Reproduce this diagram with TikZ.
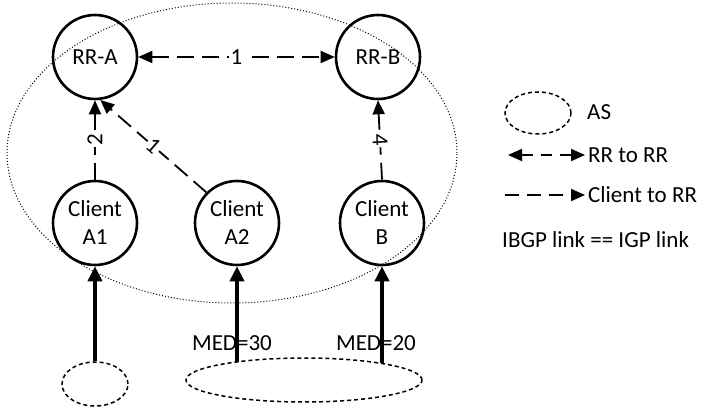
\documentclass[tikz,border=0pt]{standalone}
\usepackage{fontspec}
\setmainfont{Carlito}
\usetikzlibrary{arrows.meta,shapes.geometric}
\begin{document}
\begin{tikzpicture}[x=1pt,y=-1pt,
  font=\fontsize{23}{28}\selectfont,
  router/.style={circle,draw,line width=2.6pt,minimum size=84pt,inner sep=0pt,align=center},
  asdash/.style={draw,line width=1.5pt,dash pattern=on 4pt off 3pt},
  ibgp/.style={line width=1.8pt,dash pattern=on 17pt off 8pt,-{Triangle[length=14pt,width=12pt]}},
  rrlink/.style={line width=1.8pt,dash pattern=on 17pt off 8pt,{Triangle[length=14pt,width=12pt]}-{Triangle[length=14pt,width=12pt]}},
  ebgp/.style={line width=4pt,-{Triangle[length=15pt,width=14pt]}},
  lbl/.style={inner sep=0pt},
  numlbl/.style={inner sep=1.5pt,fill=white},
]
\useasboundingbox (0,0) rectangle (715,414);
% AS ellipse
\draw[line width=1pt,dash pattern=on 1pt off 2pt] (232,153) ellipse [x radius=225pt, y radius=150pt];
% routers
\node[router] (RRA) at (95,57) {RR-A};
\node[router] (RRB) at (378,57) {RR-B};
\node[router] (CA1) at (95,223) {Client\\A1};
\node[router] (CA2) at (237,223) {Client\\A2};
\node[router] (CB) at (382,223) {Client\\B};
% external ASes
\node[ellipse,asdash,minimum width=66pt,minimum height=44pt,inner sep=0pt] (AS1) at (95,384) {};
\node[ellipse,asdash,minimum width=236pt,minimum height=44pt,inner sep=0pt] (AS2) at (304,380) {};
\coordinate (s2) at (237,362);
\coordinate (s3) at (382,363);
% MED labels
\node[lbl] (med30) at (232,343) {MED=30};
\node[lbl] (med20) at (376,343) {MED=20};
% EBGP arrows
\draw[ebgp] (AS1.north) -- (CA1.south);
\draw[ebgp] (s2) -- (CA2.south);
\draw[ebgp] (s3) -- (CB.south);
% IBGP links
\draw[rrlink] (RRA) -- node[numlbl] {1} (RRB);
\draw[ibgp] (CA1.north) -- node[numlbl,sloped] {2} (RRA.south);
\draw[ibgp] (CA2.135) -- node[numlbl,sloped,pos=0.5] {1} (RRA.-83);
\draw[ibgp] (CB.north) -- node[numlbl,sloped] {4} (RRB.south);
% legend
\node[ellipse,asdash,minimum width=66pt,minimum height=42pt,inner sep=0pt] (legAS) at (538,113) {};
\node[anchor=west,lbl] (legAStxt) at (587,112) {AS};
\node[anchor=west,lbl] (legRRtxt) at (588,155) {RR to RR};
\node[anchor=west,lbl] (legCtxt) at (588,195) {Client to RR};
\coordinate (l1a) at (508,155);
\coordinate (l1b) at (585,155);
\coordinate (l2a) at (505,195);
\coordinate (l2b) at (585,195);
\draw[rrlink,dash pattern=on 11pt off 8pt] (l1a) -- (l1b);
\draw[ibgp,dash pattern=on 14pt off 8pt] (l2a) -- (l2b);
\node[anchor=west,lbl] (legIBGP) at (502,240) {IBGP link == IGP link};
\end{tikzpicture}
\end{document}
